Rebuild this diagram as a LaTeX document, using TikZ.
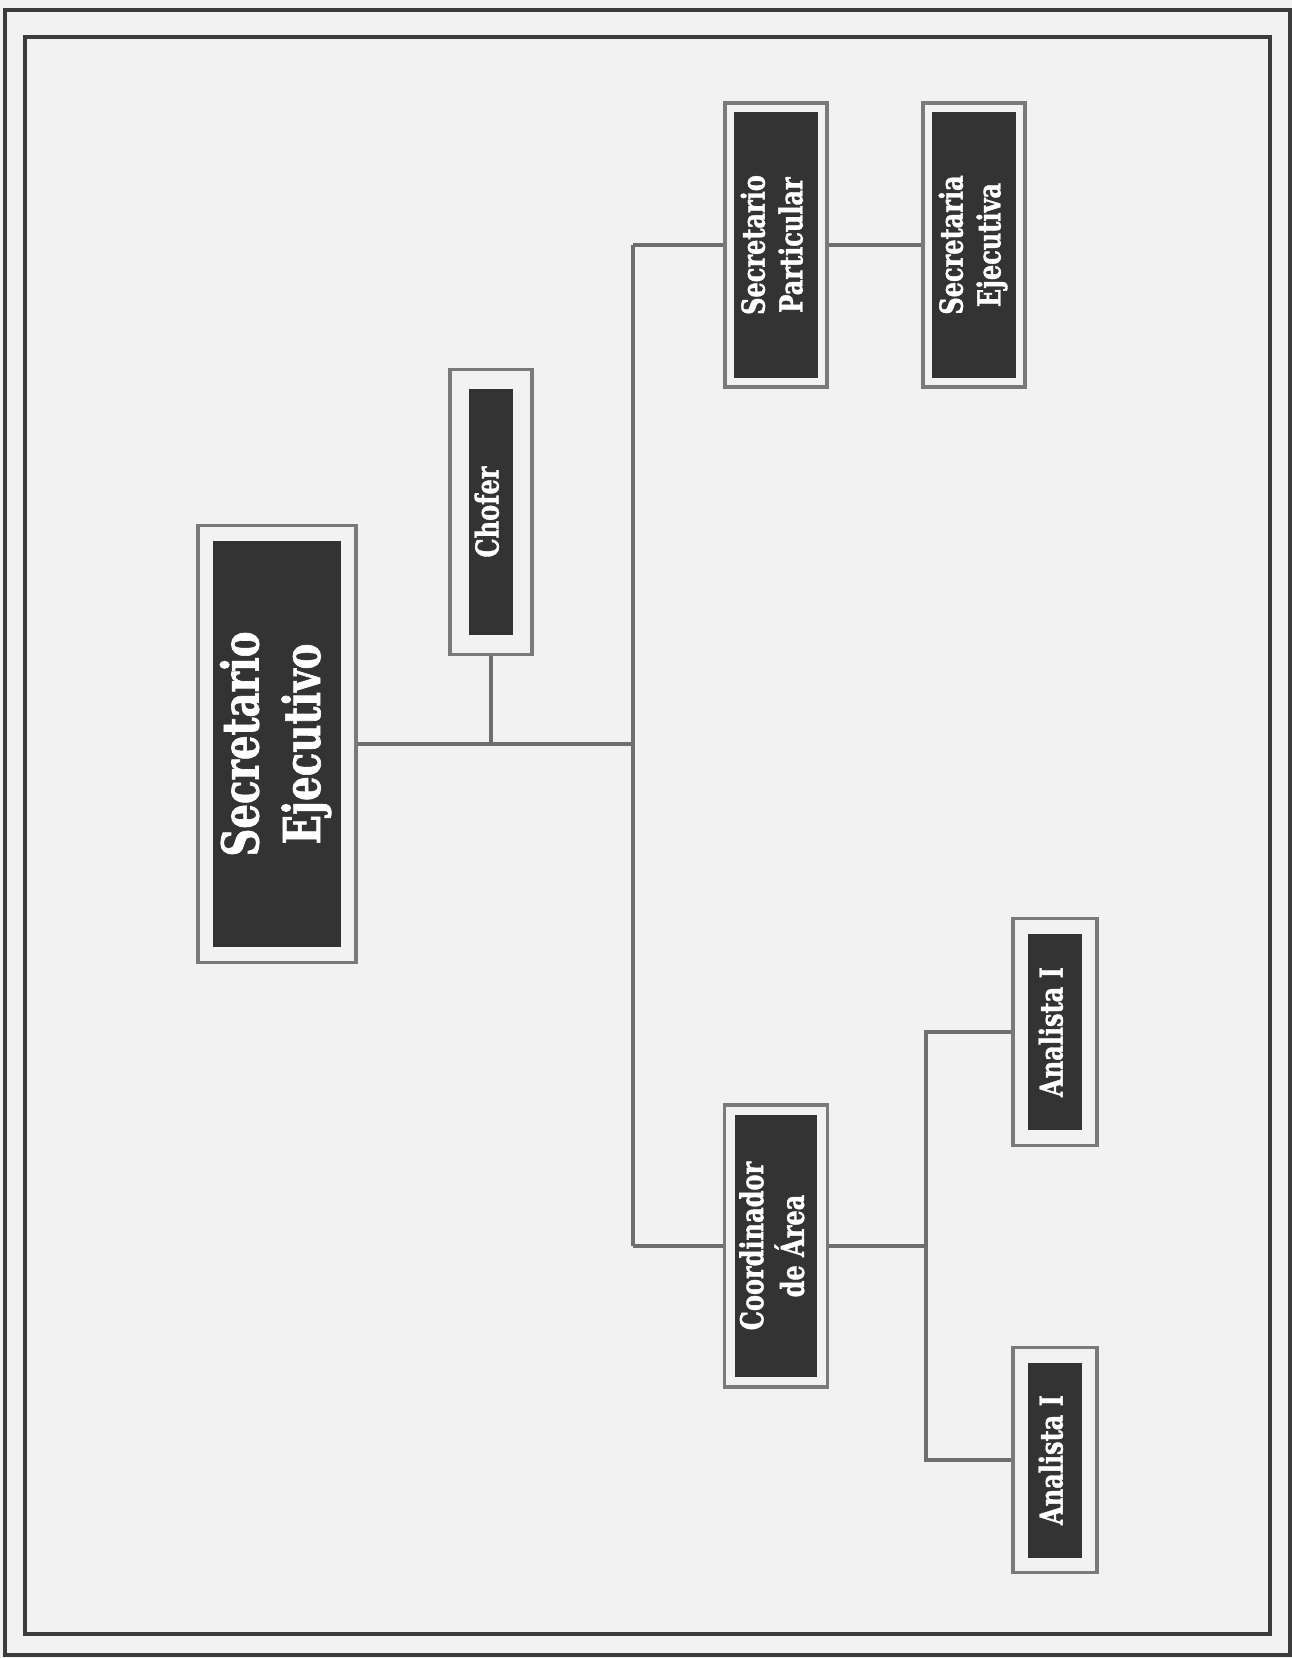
\documentclass[tikz,border=0pt]{standalone}
\usepackage{fontspec}
\usepackage{graphicx}
\newfontfamily\slab[FakeStretch=0.76,BoldFeatures={FakeBold=1.2}]{DejaVu Serif}
\usepackage{tikz}
\usetikzlibrary{positioning,calc}
\definecolor{Paper}{HTML}{F2F2F2}
\definecolor{Dark}{HTML}{333333}
\definecolor{Frame}{HTML}{7A7A7A}
\definecolor{Link}{HTML}{6E6E6E}
\definecolor{Border}{HTML}{3C3C3C}
\newcommand\turned[1]{\rotatebox{90}{\begin{tabular}{@{}c@{}}#1\end{tabular}}}
\tikzset{
  post/.style={rectangle,draw=Frame,line width=2.2pt,fill=Paper,text=white,align=center,inner sep=0pt,
    font=\slab\bfseries\fontsize{18}{21.5}\selectfont,
    path picture={\fill[Dark] ([xshift=#1,yshift=#1]path picture bounding box.south west) rectangle ([xshift=-#1,yshift=-#1]path picture bounding box.north east);}},
  post/.default=0.2cm,
  link/.style={draw=Link,line width=1.8pt},
  page/.style={draw=Border,line width=2.4pt}
}
\begin{document}
\begin{tikzpicture}[x=0.02cm,y=-0.02cm]
  \useasboundingbox (0,0) rectangle (1292,1658);
  \fill[Paper] (0,0) rectangle (1292,1658);
  \draw[page] (5,10) rectangle (1290,1655);
  \draw[page] (25,37) rectangle (1270,1634);

  \node[post=0.3cm,minimum height=8.74cm,minimum width=3.16cm,font=\slab\bfseries\fontsize{29}{35}\selectfont] (se) at (277,744) {\turned{Secretario\\Ejecutivo}};
  \node[post=0.38cm,minimum height=5.7cm,minimum width=1.64cm] (chofer) at (491,512) {\turned{Chofer}};
  \node[post=0.18cm,minimum height=5.68cm,minimum width=2.04cm] (sp) at (776,245) {\turned{Secretario\\Particular}};
  \node[post=0.18cm,minimum height=5.68cm,minimum width=2.04cm] (sej) at (974,245) {\turned{Secretaria\\Ejecutiva}};
  \node[post=0.2cm,minimum height=5.64cm,minimum width=2.06cm] (ca) at (776,1246) {\turned{Coordinador\\de Área}};
  \node[post=0.3cm,minimum height=4.54cm,minimum width=1.68cm] (a1) at (1055,1032) {\turned{Analista I}};
  \node[post=0.3cm,minimum height=4.5cm,minimum width=1.68cm] (a2) at (1055,1460) {\turned{Analista I}};

  % tree lines
  \coordinate (hub) at (633,744);
  \coordinate (top) at (633,245);
  \coordinate (bot) at (633,1246);
  \coordinate (fork) at (926,1246);
  \draw[link] (se) -- (hub);
  \draw[link] (chofer) -- (chofer |- hub);
  \draw[link] (top) -- (bot);
  \draw[link] (top) -- (sp);
  \draw[link] (sp) -- (sej);
  \draw[link] (bot) -- (ca);
  \draw[link] (ca) -- (fork);
  \draw[link] (a1) -- (a1 -| fork) -- (a2 -| fork) -- (a2);
\end{tikzpicture}
\end{document}
